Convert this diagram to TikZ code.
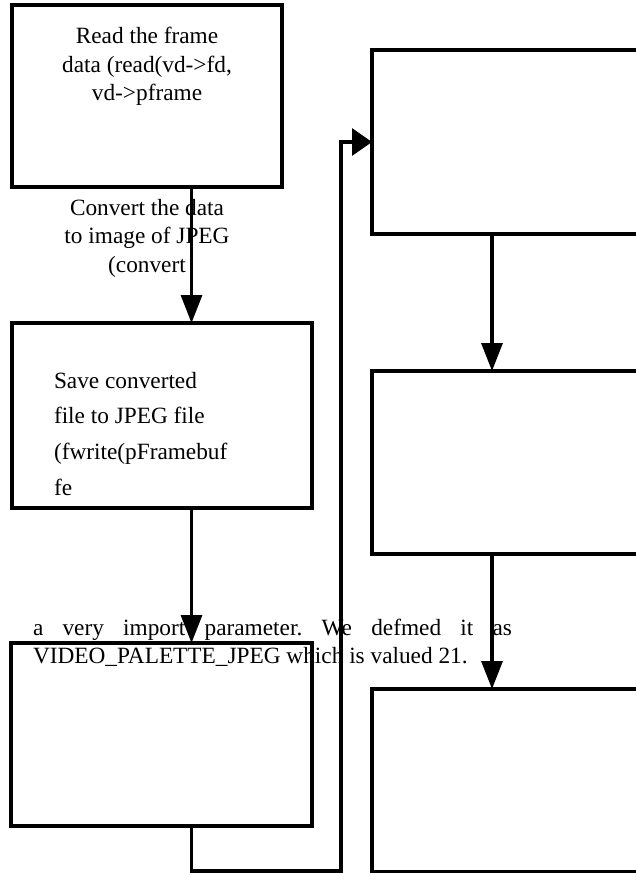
\documentclass[tikz,border=0pt]{standalone}
\usepackage{fontspec}
\setmainfont{Liberation Serif}
\usetikzlibrary{arrows.meta}
\tikzset{
  box/.style={draw=black, line width=3.2pt, fill=none, inner sep=0pt, outer sep=0pt},
  conn/.style={draw=black, line width=3.2pt},
  arr/.style={conn, -{Triangle[length=28pt,width=21pt]}},
  harr/.style={conn, -{Triangle[length=20pt,width=27pt]}},
  txt/.style={inner sep=0pt, outer sep=0pt, font=\fontsize{23.3}{28.5}\selectfont},
}
\begin{document}
\begin{tikzpicture}[x=1pt, y=-1pt]
\clip (0,0) rectangle (636,873);
\fill[white] (0,0) rectangle (636,873);
% text first (lines are drawn over it)
\node[txt, anchor=base] (t1a) at (147,43) {Read the frame};
\node[txt, anchor=base] (t1b) at (147,72) {data (read(vd->fd,};
\node[txt, anchor=base] (t1c) at (147,100) {vd->pframe};
\node[txt, anchor=base] (t2a) at (147,215) {Convert the data};
\node[txt, anchor=base] (t2b) at (147,243) {to image of JPEG};
\node[txt, anchor=base] (t2c) at (147,272) {(convert};
\node[txt, anchor=base west] (t3a) at (54,388) {Save converted};
\node[txt, anchor=base west] (t3b) at (54,423) {file to JPEG file};
\node[txt, anchor=base west] (t3c) at (54,459) {(fwrite(pFramebuf};
\node[txt, anchor=base west] (t3d) at (54,495) {fe};
\node[txt, anchor=base west] (t4a) at (33,635) {\hbox to 479pt{a\hfil very\hfil import\hfil parameter.\hfil We\hfil defmed\hfil it\hfil as}};
\node[txt, anchor=base west] (t4b) at (33,663) {VIDEO\_PALETTE\_JPEG which is valued 21.};
% boxes
\node[box, minimum width=270pt, minimum height=182pt] (b1) at (147,96) {};
\node[box, minimum width=300pt, minimum height=185pt] (b2) at (162,415.5) {};
\node[box, minimum width=301pt, minimum height=183pt] (b3) at (161.5,734.5) {};
\node[box, minimum width=328pt, minimum height=184pt] (b4) at (536,142) {};
\node[box, minimum width=328pt, minimum height=183pt] (b5) at (536,462.5) {};
\node[box, minimum width=328pt, minimum height=183pt] (b6) at (536,780.5) {};
% connector columns
\coordinate (cl) at (191.5,0);
\coordinate (cr) at (492,0);
\coordinate (r1) at (191.5,871);
\coordinate (r2) at (341,871);
\coordinate (r3) at (341,142);
\draw[arr] (b1.south -| cl) -- (b2.north -| cl);
\draw[arr] (b2.south -| cl) -- (b3.north -| cl);
\draw[harr] (b3.south -| cl) -- (r1) -- (r2) -- (r3) -- (b4.west);
\draw[arr] (b4.south -| cr) -- (b5.north -| cr);
\draw[arr] (b5.south -| cr) -- (b6.north -| cr);
\end{tikzpicture}
\end{document}
